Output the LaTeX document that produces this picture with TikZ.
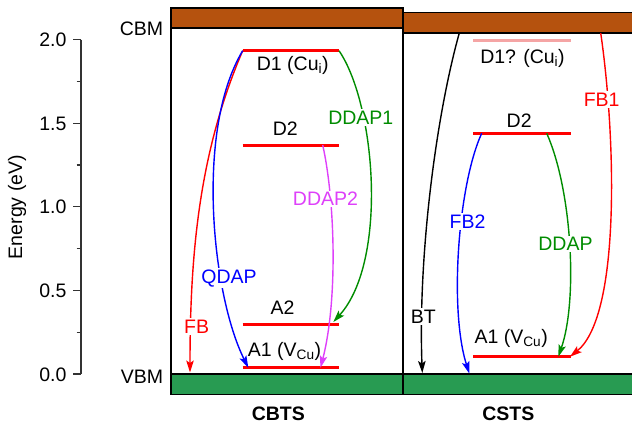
\documentclass[tikz,border=0pt]{standalone}
\usepackage{fontspec}
\setmainfont{Liberation Sans}
\usetikzlibrary{arrows.meta}
\definecolor{cbrown}{RGB}{181,82,14}
\definecolor{cgreen}{RGB}{40,155,82}
\definecolor{cgrn}{RGB}{0,140,0}
\definecolor{cmag}{RGB}{222,64,250}
\definecolor{cpale}{RGB}{245,165,165}
\tikzset{
 txt/.style={font=\fontsize{19.5}{23}\selectfont, inner sep=0pt},
 btxt/.style={font=\fontsize{19.5}{23}\selectfont\bfseries, inner sep=0pt},
 lbl/.style={txt, fill=white, inner sep=1.5pt},
 level/.style={line width=3pt, red},
 arr/.style={line width=1.4pt, -{Stealth[length=12pt,width=7.5pt,inset=2.5pt]}},
 band/.style={line width=1.5pt, draw=black},
 axisline/.style={line width=1.2pt, black!80},
}
\begin{document}
\begin{tikzpicture}[x=1pt,y=-1pt]
\useasboundingbox (0,0) rectangle (632,424);
\clip (0,0) rectangle (632,424);
% axis
\draw[axisline] (81,39.5) -- (81,374);
\foreach \yy/\t in {374/0.0, 290.4/0.5, 206.75/1.0, 123.1/1.5, 39.5/2.0}{
  \draw[axisline] (73,\yy) -- (81,\yy);
  \node[txt, anchor=base east] at (66.7,\yy+7) {\t};
}
\foreach \yy in {332.2, 248.6, 164.9, 81.3}{
  \draw[axisline] (76.5,\yy) -- (81,\yy);
}
\node[txt, rotate=90] (elab) at (17,207) {Energy (eV)};
\node[txt, anchor=base east] (cbm) at (163.3,35.7) {CBM};
\node[txt, anchor=base east] (vbm) at (163.3,383.3) {VBM};
% panels
\filldraw[band, fill=cbrown] (171,8) rectangle (403,28);
\filldraw[band, fill=cbrown] (403,12.3) rectangle (645,33);
\filldraw[band, fill=cgreen] (171,374) rectangle (403,394.3);
\filldraw[band, fill=cgreen] (403,374) rectangle (645,394.3);
\draw[band] (171,28) -- (171,374);
\draw[band] (403,28) -- (403,374);
\node[btxt, anchor=base] (cbts) at (278.3,420) {CBTS};
\node[btxt, anchor=base] (csts) at (508.3,420) {CSTS};
% left levels
\coordinate (D1a) at (242.7,50.7); \coordinate (D1b) at (339,50.7);
\coordinate (D2a) at (242.7,145);  \coordinate (D2b) at (339,145);
\coordinate (A2a) at (242.7,324);  \coordinate (A2b) at (339,324);
\coordinate (A1a) at (242.7,367.7);\coordinate (A1b) at (339,367.7);
\draw[level] (D1a) -- (D1b);
\draw[level] (D2a) -- (D2b);
\draw[level] (A2a) -- (A2b);
\draw[level] (A1a) -- (A1b);
\node[txt, anchor=base] (lD1) at (292.8,70.7) {D1 (Cu\textsubscript{i})};
\node[txt, anchor=base] (lD2) at (285.3,135.8) {D2};
\node[txt, anchor=base] (lA2) at (282.5,314) {A2};
\node[txt, anchor=base] (lA1) at (284.5,356.7) {A1 (V\textsubscript{Cu})};
% left arrows
\coordinate (FBend) at (190,372.5);
\coordinate (QDend) at (248.3,367.7);
\coordinate (DD1end) at (333.3,322);
\coordinate (DD2start) at (322.7,145);
\coordinate (DD2end) at (320.5,367.7);
\draw[arr, red] (D1a) .. controls (200,150) and (190,250) .. (FBend);
\draw[arr, blue] (D1a) .. controls (195,130) and (212,295) .. (QDend);
\draw[arr, cgrn] (D1b) .. controls (376,105) and (388,262) .. (DD1end);
\draw[arr, cmag] (DD2start) .. controls (335,200) and (338,300) .. (DD2end);
\node[lbl, anchor=base, text=red] (lFB) at (196.7,333.3) {FB};
\node[lbl, anchor=base, text=blue] (lQD) at (229,283) {QDAP};
\node[lbl, anchor=base, text=cgrn] (lDD1) at (360.8,124) {DDAP1};
\node[lbl, anchor=base, text=cmag] (lDD2) at (325.5,205.7) {DDAP2};
% right levels
\coordinate (rD1a) at (473.3,40);   \coordinate (rD1b) at (570.7,40);
\coordinate (rD2a) at (473.3,133.3);\coordinate (rD2b) at (570.7,133.3);
\coordinate (rA1a) at (473.3,356.7);\coordinate (rA1b) at (570.7,356.7);
\draw[level, cpale] (rD1a) -- (rD1b);
\draw[level] (rD2a) -- (rD2b);
\draw[level] (rA1a) -- (rA1b);
\node[txt, anchor=base] (rlD1) at (522.5,63) {D1? (Cu\textsubscript{i})};
\node[txt, anchor=base] (rlD2) at (519.2,127.3) {D2};
\node[txt, anchor=base] (rlA1) at (511.2,343.7) {A1 (V\textsubscript{Cu})};
% right arrows
\coordinate (BTstart) at (459.3,33);
\coordinate (BTend) at (422.3,373);
\coordinate (FB1start) at (600.7,33);
\coordinate (FB1end) at (570,356.7);
\coordinate (FB2start) at (481.7,133.3);
\coordinate (FB2end) at (469.3,373.5);
\coordinate (DDstart) at (546.7,133.3);
\coordinate (DDend) at (558.3,356.7);
\draw[arr, black] (BTstart) .. controls (435,120) and (418,260) .. (BTend);
\draw[arr, red] (FB1start) .. controls (615,130) and (622,315) .. (FB1end);
\draw[arr, blue] (FB2start) .. controls (458,185) and (449,310) .. (FB2end);
\draw[arr, cgrn] (DDstart) .. controls (572,190) and (578,300) .. (DDend);
\node[lbl, anchor=base, text=black] (lBT) at (423.3,323.3) {BT};
\node[lbl, anchor=base, text=red] (lFB1) at (601.7,106) {FB1};
\node[lbl, anchor=base, text=blue] (lFB2) at (467.5,228) {FB2};
\node[lbl, anchor=base, text=cgrn] (lDD) at (565.5,250.7) {DDAP};
\end{tikzpicture}
\end{document}
